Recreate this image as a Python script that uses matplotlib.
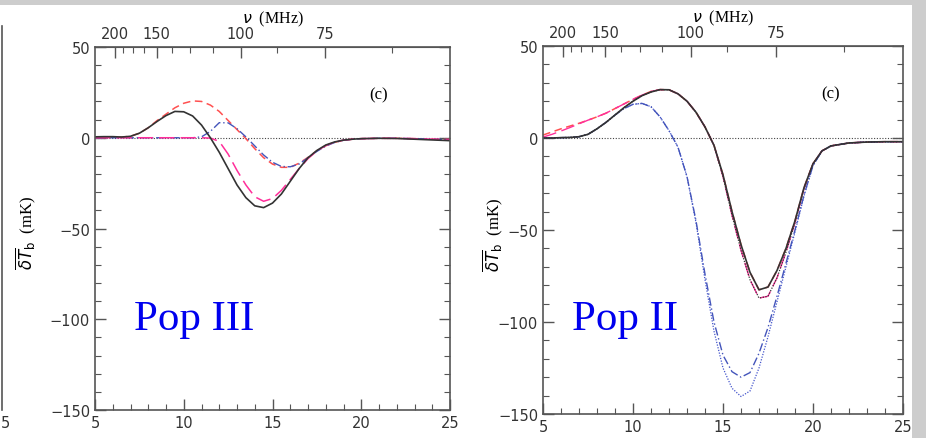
import matplotlib
matplotlib.use("Agg")
import matplotlib.pyplot as plt
from matplotlib.patches import Rectangle
from matplotlib.lines import Line2D

plt.rcParams['font.family'] = ['DejaVu Sans']

# redshift grid shared by all curves
z = [5, 5.5, 6, 6.5, 7, 7.5, 8, 8.5, 9, 9.5, 10, 10.5, 11, 11.5, 12, 12.5, 13, 13.5,
     14, 14.5, 15, 15.5, 16, 16.5, 17, 17.5, 18, 18.5, 19, 19.5, 20, 20.5, 21, 22, 23, 24, 25]

# ---- Pop III panel ----
p3_black = [0.5, 0.6, 0.6, 0.4, 0.8, 2.5, 5.5, 9, 12.2, 14.5, 14.3, 12, 7, 0, -8, -17, -26, -33,
            -37.5, -38.5, -36, -31, -24, -17, -11, -7, -4, -2.3, -1.3, -0.8, -0.5, -0.4, -0.3, -0.4, -0.8, -1.2, -1.6]
p3_red = [0.3, 0.4, 0.4, 0.4, 0.8, 2.5, 5.5, 9.5, 13, 16.5, 19, 20.3, 20, 18, 14.5, 9.5, 4.5, -0.5,
          -6, -11, -14.5, -16.3, -16.3, -14, -10.8, -7.2, -4.4, -2.5, -1.4, -0.8, -0.5, -0.4, -0.3, -0.3, -0.5, -0.8, -1.0]
p3_blue = [0, 0, 0, 0, 0, 0, 0, 0, 0, 0, 0, 0, 0.5, 3.5, 8.3, 8.2, 5, 0.5,
           -4.5, -9.5, -13.5, -15.8, -16, -14.5, -11, -7.5, -4.6, -2.6, -1.4, -0.8, -0.5, -0.4, -0.3, -0.3, -0.5, -0.8, -1.0]
p3_magenta = [0, 0, 0, 0, 0, 0, 0, 0, 0, 0, 0, 0, 0, -0.2, -2, -9, -18, -26,
              -32.5, -35, -33.5, -29, -23, -17, -11.5, -7.3, -4.3, -2.4, -1.3, -0.8, -0.5, -0.4, -0.3, -0.3, -0.5, -0.8, -1.0]

# ---- Pop II panel ----
p2_black = [0, 0, 0.2, 0.3, 0.7, 2, 5, 8.5, 12.5, 16.5, 20, 23, 25, 26.3, 26.2, 24, 20, 14,
            6, -4, -20, -40, -58, -73, -82.5, -81, -72, -60, -45, -27, -14, -7, -4.3, -2.7, -2.2, -2, -2]
p2_black_dot = [0, 0, 0.2, 0.3, 0.7, 2, 5, 8.5, 12.5, 16.5, 20, 23, 25, 26.3, 26.2, 24, 20, 14,
                6, -4, -21, -42, -61, -77, -87, -86, -76, -62, -46, -27.5, -14, -7, -4.3, -2.7, -2.2, -2, -2]
p2_red = [1.6, 3.3, 5, 6.5, 8, 9.7, 11.5, 13.5, 16, 18.5, 21, 23.3, 25.3, 26.3, 26.2, 24, 20, 14,
          6, -4, -20, -40, -58, -73, -82.5, -81, -72, -60, -45, -27, -14, -7, -4.3, -2.7, -2.2, -2, -2]
p2_magenta = [0.5, 2, 3.8, 5.7, 7.7, 9.7, 11.5, 13.5, 16, 18.5, 21, 23.3, 25.3, 26.3, 26.2, 24, 20, 14,
              6, -4, -21, -42, -61, -77, -87, -86, -76, -62, -46, -27.5, -14, -7, -4.3, -2.7, -2.2, -2, -2]
p2_blue = [0, 0, 0.2, 0.3, 0.7, 2, 5, 8.5, 12.5, 16, 18.3, 18.8, 17, 11.5, 4, -5, -21, -45,
           -74, -100, -118, -127, -130, -127.5, -117, -103, -86, -68, -50, -31, -15, -7, -4.3, -2.7, -2.2, -2, -2]
p2_blue_dot = [0, 0, 0.2, 0.3, 0.7, 2, 5, 8.5, 12.5, 16, 18.3, 18.8, 17, 11.5, 4, -5, -21, -46,
               -77, -105, -125, -136, -140.5, -137.5, -125, -108, -89, -70, -51, -31.5, -15, -7, -4.3, -2.7, -2.2, -2, -2]

nu_major = [200, 150, 100, 75]
nu_minor = [187.5, 175, 162.5, 137.5, 125, 112.5, 87.5, 62.5]

grey = "#555555"


def z2nu(x):
    return 1420.4 / (1 + x)


def nu2z(n):
    return 1420.4 / n - 1


def style_panel(ax, label, label_x, label_y):
    ax.set_facecolor("none")
    ax.set_xlim(5, 25)
    ax.set_ylim(-150, 50)
    ax.axhline(0, color="#444444", lw=0.8, ls=(0, (1, 1.5)), zorder=1)
    ax.set_xticks([5, 10, 15, 20, 25])
    ax.set_xticks(range(5, 26), minor=True)
    ax.set_yticks([-150, -100, -50, 0, 50])
    ax.set_yticks(range(-150, 51, 10), minor=True)
    ax.tick_params(which="both", direction="in", top=False, right=True, color=grey,
                   labelsize=10.5, labelcolor="#333333")
    ax.tick_params(which="major", length=8, width=1)
    ax.tick_params(which="minor", length=4, width=0.8)
    for s in ax.spines.values():
        s.set_color(grey)
        s.set_linewidth(1.2)
    sec = ax.secondary_xaxis("top", functions=(z2nu, nu2z))
    sec.set_xticks(nu_major)
    sec.set_xticklabels([str(n) for n in nu_major])
    sec.set_xticks(nu_minor, minor=True)
    sec.tick_params(which="both", direction="in", color=grey, labelsize=10.5,
                    labelcolor="#333333", pad=4)
    sec.tick_params(which="major", length=8, width=1)
    sec.tick_params(which="minor", length=4, width=0.8)
    sec.spines["top"].set_color(grey)
    sec.set_xlabel(r"$\nu$  (MHz)", fontsize=11.5, family="Liberation Serif", labelpad=3)
    ax.set_ylabel(r"$\overline{\delta T}_{\rm b}$  (mK)", fontsize=12, family="Liberation Serif")
    ax.text(0.8, 0.87, "(c)", transform=ax.transAxes, fontsize=12, family="Liberation Serif",
            ha="center", va="center")
    ax.text(label_x, label_y, label, transform=ax.transAxes, fontsize=31, color="#0000ee",
            family="Liberation Serif", va="baseline")


fig = plt.figure(figsize=(9.26, 4.39), dpi=100, facecolor="#cdcdcd")
fig.patches.append(Rectangle((0, 0), 912 / 926, 433 / 439, transform=fig.transFigure,
                             facecolor="white", edgecolor="none", zorder=-10))
# edge of the previous panel, cut off at the left
fig.lines.append(Line2D([1.5 / 926, 1.5 / 926], [1 - 411 / 439, 1 - 27 / 439],
                        transform=fig.transFigure, color=grey, lw=1.2))
fig.text(5 / 926, 1 - 424 / 439, "5", fontsize=10.5, color="#333333", ha="center", va="center")

ax1 = fig.add_axes([95 / 926, 1 - 411 / 439, 355 / 926, 363 / 439])
ax1.plot(z, p3_red, color="#ff5050", lw=1.1, ls=(0, (5, 3)))
ax1.plot(z, p3_blue, color="#4455bb", lw=1.0, ls=(0, (6, 2, 1, 2)))
ax1.plot(z, p3_magenta, color="#ff2e9a", lw=1.1, ls=(0, (10, 4)))
ax1.plot(z, p3_black, color="#333333", lw=1.2)
style_panel(ax1, "Pop III", 0.11, 0.223)
ax1.yaxis.set_label_coords(-0.16, 0.49)

ax2 = fig.add_axes([543 / 926, 1 - 415 / 439, 360 / 926, 368 / 439])
ax2.plot(z, p2_red, color="#ff5050", lw=1.1, ls=(0, (5, 3)))
ax2.plot(z, p2_magenta, color="#ff2e9a", lw=1.0, ls=(0, (10, 4)))
ax2.plot(z, p2_blue_dot, color="#4455cc", lw=0.9, ls=(0, (1, 1.2)))
ax2.plot(z, p2_blue, color="#4455bb", lw=1.0, ls=(0, (6, 2, 1, 2)))
ax2.plot(z, p2_black_dot, color="#333333", lw=0.9, ls=(0, (1, 1.2)))
ax2.plot(z, p2_black, color="#333333", lw=1.2)
style_panel(ax2, "Pop II", 0.08, 0.231)
ax2.yaxis.set_label_coords(-0.105, 0.49)

fig.savefig("out.png", dpi=100, facecolor=fig.get_facecolor())
